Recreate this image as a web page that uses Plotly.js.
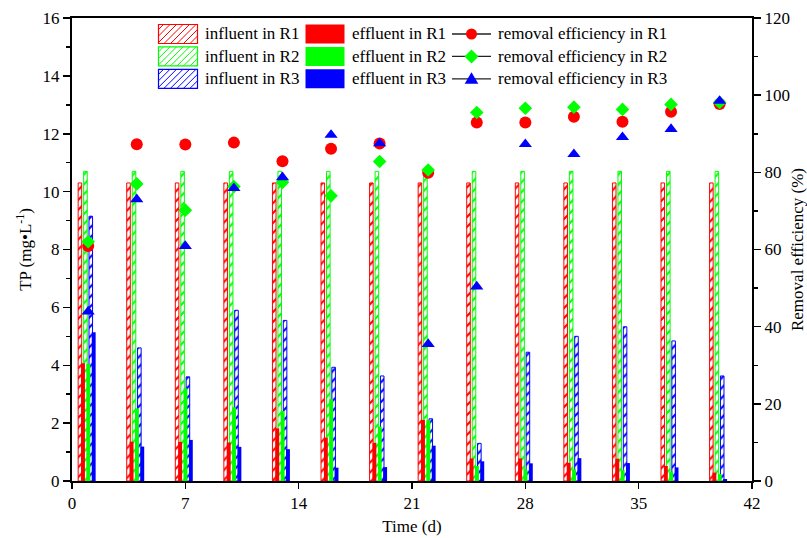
<!DOCTYPE html>
<html>
<head>
<meta charset="utf-8">
<script src="https://cdn.plot.ly/plotly-3.0.1.min.js"></script>
<style>html,body{margin:0;padding:0;background:#fff;}#chart{width:807px;height:538px;}</style>
</head>
<body>
<div id="chart"></div>
<script>
const days = [1, 4, 7, 10, 13, 16, 19, 22, 25, 28, 31, 34, 37, 40];
const influentR1 = [10.3, 10.3, 10.3, 10.3, 10.3, 10.3, 10.3, 10.3, 10.3, 10.3, 10.3, 10.3, 10.3, 10.3];
const influentR2 = [10.7, 10.7, 10.7, 10.7, 10.7, 10.7, 10.7, 10.7, 10.7, 10.7, 10.7, 10.7, 10.7, 10.7];
const influentR3 = [9.15, 4.6, 3.6, 5.9, 5.55, 3.93, 3.63, 2.15, 1.3, 4.45, 5.0, 5.33, 4.84, 3.63];
const effluentR1 = [4.07, 1.36, 1.35, 1.33, 1.82, 1.5, 1.32, 2.11, 0.78, 0.78, 0.63, 0.77, 0.52, 0.29];
const effluentR2 = [4.05, 2.51, 3.2, 2.55, 2.42, 2.83, 1.88, 2.1, 0.52, 0.4, 0.4, 0.38, 0.32, 0.24];
const effluentR3 = [5.14, 1.19, 1.42, 1.18, 1.1, 0.46, 0.48, 1.22, 0.68, 0.61, 0.79, 0.62, 0.47, 0.07];
const removalR1 = [60.9, 87.3, 87.2, 87.7, 82.9, 86.1, 87.5, 79.9, 92.9, 92.9, 94.4, 93.1, 95.7, 97.7];
const removalR2 = [62.0, 77.0, 70.2, 76.3, 77.4, 73.9, 82.8, 80.6, 95.5, 96.6, 96.9, 96.3, 97.6, 98.1];
const removalR3 = [43.9, 73.0, 60.9, 75.9, 78.7, 89.7, 87.5, 35.5, 50.4, 87.3, 84.7, 89.1, 91.2, 98.5];
const seriesNames = [
  ['influent in R1', 'effluent in R1', 'removal efficiency in R1'],
  ['influent in R2', 'effluent in R2', 'removal efficiency in R2'],
  ['influent in R3', 'effluent in R3', 'removal efficiency in R3']
];

const RED = '#FF0000', GREEN = '#00FF00', BLUE = '#0000FF';
const COLORS = [RED, GREEN, BLUE];
const FONT = 'Liberation Serif';

function hatched(name, y, color, offset) {
  return {
    type: 'bar', name: name, x: days, y: y, offset: offset, width: 0.22,
    xaxis: 'x', yaxis: 'y', showlegend: false,
    marker: {
      color: 'white',
      line: {color: color, width: 1},
      pattern: {shape: '/', fgcolor: color, bgcolor: 'white', size: 7, solidity: 0.3}
    }
  };
}
function solid(name, y, color, offset) {
  return {
    type: 'bar', name: name, x: days, y: y, offset: offset, width: 0.24,
    xaxis: 'x', yaxis: 'y', showlegend: false,
    marker: {color: color, line: {width: 0}}
  };
}
function pts(name, y, color, symbol, size) {
  return {
    type: 'scatter', mode: 'markers', name: name, x: days, y: y,
    xaxis: 'x', yaxis: 'y2', showlegend: false,
    marker: {color: color, symbol: symbol, size: size, line: {width: 0}}
  };
}

const data = [
  hatched(seriesNames[0][0], influentR1, RED, -0.62),
  hatched(seriesNames[1][0], influentR2, GREEN, -0.28),
  hatched(seriesNames[2][0], influentR3, BLUE, 0.05),
  solid(seriesNames[0][1], effluentR1, RED, -0.44),
  solid(seriesNames[1][1], effluentR2, GREEN, -0.11),
  solid(seriesNames[2][1], effluentR3, BLUE, 0.22),
  pts(seriesNames[0][2], removalR1, RED, 'circle', 12),
  pts(seriesNames[1][2], removalR2, GREEN, 'diamond', 10.5),
  pts(seriesNames[2][2], removalR3, BLUE, 'triangle-up', 11.5)
];

// ---- manual legend (pixel layout converted to paper coords) ----
const PL = 72, PR = 752, PT = 18, PB = 481;
const px = v => (v - PL) / (PR - PL);
const py = v => (PB - v) / (PB - PT);
const shapes = [];
const annotations = [];
const rowY = [34, 56.4, 78.8];
const boxH = 19, boxW = 39;
rowY.forEach((cy, i) => {
  const col = COLORS[i];
  const y0 = cy - boxH / 2, y1 = cy + boxH / 2;
  // hatched box
  const hx0 = 158.5, hx1 = hx0 + boxW;
  for (let c = hx0 + y0 + 5; c < hx1 + y1; c += 6.5) {
    const xa = Math.max(hx0, c - y1), xb = Math.min(hx1, c - y0);
    if (xb <= xa) continue;
    shapes.push({type: 'line', xref: 'paper', yref: 'paper',
      x0: px(xa), y0: py(c - xa), x1: px(xb), y1: py(c - xb),
      line: {color: col, width: 1}});
  }
  shapes.push({type: 'rect', xref: 'paper', yref: 'paper',
    x0: px(hx0), x1: px(hx1), y0: py(y1), y1: py(y0),
    line: {color: col, width: 1.2}, fillcolor: 'rgba(0,0,0,0)'});
  annotations.push({xref: 'paper', yref: 'paper', x: px(203), y: py(cy),
    xanchor: 'left', yanchor: 'middle', showarrow: false, text: seriesNames[i][0],
    font: {family: FONT, size: 17, color: '#000'}});
  // solid box
  const sx0 = 305.5, sx1 = sx0 + boxW;
  shapes.push({type: 'rect', xref: 'paper', yref: 'paper',
    x0: px(sx0), x1: px(sx1), y0: py(y1), y1: py(y0),
    line: {width: 0}, fillcolor: col});
  annotations.push({xref: 'paper', yref: 'paper', x: px(349.5), y: py(cy),
    xanchor: 'left', yanchor: 'middle', showarrow: false, text: seriesNames[i][1],
    font: {family: FONT, size: 17, color: '#000'}});
  // line + marker
  shapes.push({type: 'line', xref: 'paper', yref: 'paper',
    x0: px(452), x1: px(491), y0: py(cy), y1: py(cy),
    line: {color: '#222', width: 1.3}});
  const mx = 471.5;
  if (i === 0) {
    const r = 5.5;
    shapes.push({type: 'circle', xref: 'paper', yref: 'paper',
      x0: px(mx - r), x1: px(mx + r), y0: py(cy + r), y1: py(cy - r),
      line: {width: 0}, fillcolor: col});
  } else if (i === 1) {
    const r = 7;
    shapes.push({type: 'path', xref: 'paper', yref: 'paper',
      path: `M${px(mx - r)},${py(cy)} L${px(mx)},${py(cy - r)} L${px(mx + r)},${py(cy)} L${px(mx)},${py(cy + r)} Z`,
      line: {width: 0}, fillcolor: col});
  } else {
    const r = 6.8;
    shapes.push({type: 'path', xref: 'paper', yref: 'paper',
      path: `M${px(mx - r)},${py(cy + 5)} L${px(mx)},${py(cy - 6.5)} L${px(mx + r)},${py(cy + 5)} Z`,
      line: {width: 0}, fillcolor: col});
  }
  annotations.push({xref: 'paper', yref: 'paper', x: px(495.5), y: py(cy),
    xanchor: 'left', yanchor: 'middle', showarrow: false, text: seriesNames[i][2],
    font: {family: FONT, size: 17, color: '#000'}});
});

const layout = {
  width: 807, height: 538,
  margin: {l: 72, r: 55, t: 18, b: 57},
  paper_bgcolor: '#fff', plot_bgcolor: '#fff',
  font: {family: FONT, size: 17, color: '#000'},
  barmode: 'overlay',
  hovermode: false,
  showlegend: false,
  shapes: shapes,
  annotations: annotations,
  xaxis: {
    range: [0, 42], tickmode: 'linear', tick0: 0, dtick: 7,
    showgrid: false, zeroline: false,
    showline: true, linecolor: '#000', linewidth: 2, mirror: true,
    ticks: 'outside', ticklen: 6, tickwidth: 1.5, tickcolor: '#000',
    tickfont: {family: FONT, size: 17, color: '#000'},
    title: {text: 'Time (d)', font: {family: FONT, size: 17, color: '#000'}, standoff: 8}
  },
  yaxis: {
    range: [0, 16], tickmode: 'linear', tick0: 0, dtick: 2,
    showgrid: false, zeroline: false,
    showline: true, linecolor: '#000', linewidth: 2,
    ticks: 'outside', ticklen: 7, tickwidth: 1.5, tickcolor: '#000',
    minor: {dtick: 1, ticks: 'outside', ticklen: 4, tickwidth: 1.5, tickcolor: '#000'},
    tickfont: {family: FONT, size: 17, color: '#000'},
    title: {text: 'TP (mg•L<sup>-1</sup>)', font: {family: FONT, size: 17, color: '#000'}, standoff: 7}
  },
  yaxis2: {
    range: [0, 120], tickmode: 'linear', tick0: 0, dtick: 20,
    overlaying: 'y', side: 'right',
    showgrid: false, zeroline: false,
    showline: true, linecolor: '#000', linewidth: 2,
    ticks: 'outside', ticklen: 7, tickwidth: 1.5, tickcolor: '#000',
    minor: {dtick: 10, ticks: 'outside', ticklen: 4, tickwidth: 1.5, tickcolor: '#000'},
    tickfont: {family: FONT, size: 17, color: '#000'},
    title: {text: 'Removal efficiency (%)', font: {family: FONT, size: 17, color: '#000'}, standoff: 10}
  }
};

Plotly.newPlot('chart', data, layout, {displayModeBar: false, staticPlot: true});
</script>
</body>
</html>
